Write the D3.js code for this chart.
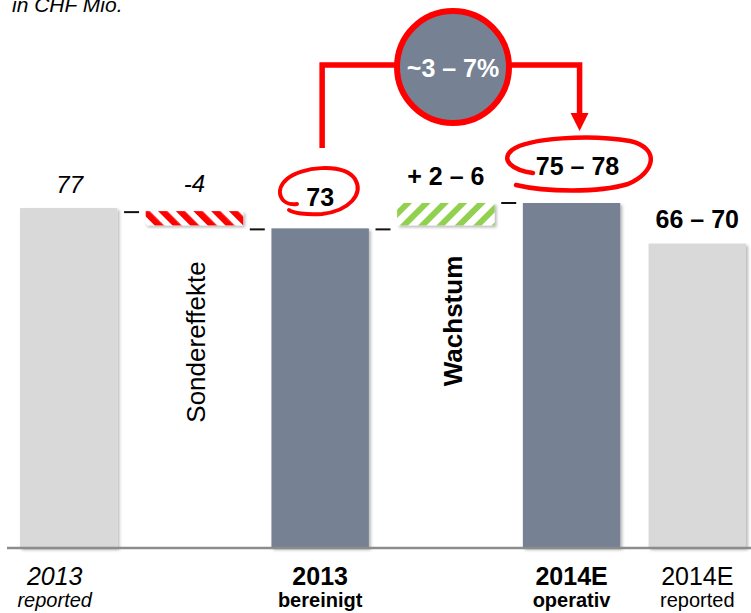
<!DOCTYPE html>
<html><head><meta charset="utf-8">
<script src="https://cdn.jsdelivr.net/npm/d3@7"></script>
<style>html,body{margin:0;padding:0;background:#fff;}svg{display:block;font-family:"Liberation Sans",Arial,sans-serif;}</style>
</head><body>
<script>
// ---- data ----
const categories = ["2013 reported","Sondereffekte","2013 bereinigt","Wachstum","2014E operativ","2014E reported"];
const barTop     = [77, 76.4, 73, 78, 78, 70];
const barLow     = [null, 73.6, null, 73.6, null, null]; // floating bars (null = from axis)
const valueLabels = ["77","-4","73","+ 2 – 6","75 – 78","66 – 70"];
const connectorLevels = [76.2, 72.8, 72.8, 78];
const catLine1 = ["2013","","2013","","2014E","2014E"];
const catLine2 = ["reported","","bereinigt","","operativ","reported"];
const rotatedLabels = ["","Sondereffekte","","Wachstum","",""];
const growthLabel = "~3 – 7%";
const unitLabel = "in CHF Mio.";

// ---- styles ----
const fills = ["#d9d9d9","url(#hatchRed)","#768193","url(#hatchGreen)","#768193","#d9d9d9"];
const labelStyle = ["italic","italic","bold","bold","bold","bold"];
const labelLift = [15, 19, 22, 18, 28, 16];
const catStyle = ["italic","","bold","","bold","normal"];
const catDx = [-14,0,0,0,0,0];

const W = 751, H = 613;
const svg = d3.select("body").append("svg").attr("width", W).attr("height", H);
const defs = svg.append("defs");
const f = defs.append("filter").attr("id","sh").attr("x","-10%").attr("y","-10%").attr("width","130%").attr("height","130%");
f.append("feDropShadow").attr("dx",2).attr("dy",2).attr("stdDeviation",1.8).attr("flood-color","#000").attr("flood-opacity",0.28);

const pr = defs.append("pattern").attr("id","hatchRed").attr("patternUnits","userSpaceOnUse")
  .attr("width",12.5).attr("height",12.5).attr("patternTransform","rotate(-45)");
pr.append("rect").attr("width",12.5).attr("height",12.5).attr("fill","#fff");
pr.append("rect").attr("width",6.5).attr("height",12.5).attr("fill","#ff0000");
const pg = defs.append("pattern").attr("id","hatchGreen").attr("patternUnits","userSpaceOnUse")
  .attr("width",13).attr("height",13).attr("patternTransform","rotate(45)");
pg.append("rect").attr("width",13).attr("height",13).attr("fill","#fff");
pg.append("rect").attr("width",6).attr("height",13).attr("fill","#92d050");

const x = d3.scaleBand().domain(categories).range([20, 746]).paddingInner(0.225).paddingOuter(0);
const y = d3.scaleLinear().domain([10, 78]).range([548, 203]);
const base = y.domain()[0];

// bars
svg.append("g").selectAll("rect").data(categories).join("rect")
  .attr("x", d => x(d))
  .attr("width", x.bandwidth())
  .attr("y", (d,i) => y(barTop[i]))
  .attr("height", (d,i) => y(barLow[i] == null ? base : barLow[i]) - y(barTop[i]))
  .attr("fill", (d,i) => fills[i])
  .attr("filter","url(#sh)");

// axis baseline
const axis = d3.axisBottom(x).tickSize(0).tickFormat("");
svg.append("g").attr("transform", `translate(0,${y(base)})`).call(axis)
  .call(g => g.select(".domain").attr("d", `M7,0H751`).attr("stroke","#8c8c8c").attr("stroke-width",2.5));

// connectors
svg.append("g").selectAll("line").data(connectorLevels).join("line")
  .attr("x1", (d,i) => (x(categories[i]) + x.bandwidth() + x(categories[i+1]))/2 - 7.5)
  .attr("x2", (d,i) => (x(categories[i]) + x.bandwidth() + x(categories[i+1]))/2 + 7.5)
  .attr("y1", d => y(d)).attr("y2", d => y(d))
  .attr("stroke","#111").attr("stroke-width",2);

// value labels
svg.append("g").selectAll("text").data(valueLabels).join("text")
  .attr("x", (d,i) => x(categories[i]) + x.bandwidth()/2 + (i===0?1:0) + (i===4?6:0))
  .attr("y", (d,i) => y(barTop[i]) - labelLift[i])
  .attr("text-anchor","middle")
  .attr("font-size", (d,i) => labelStyle[i]==="italic" ? 24 : 25)
  .attr("font-style", (d,i) => labelStyle[i]==="italic" ? "italic" : "normal")
  .attr("font-weight", (d,i) => labelStyle[i]==="bold" ? "bold" : "normal")
  .attr("fill","#000")
  .text(d => d);

// rotated labels
rotatedLabels.forEach((t,i) => {
  if (!t) return;
  const cx = x(categories[i]) + x.bandwidth()/2 + (i===1?11:16);
  const cy = i===1 ? 342 : 321;
  svg.append("text").attr("transform", `translate(${cx},${cy}) rotate(-90)`)
    .attr("text-anchor","middle").attr("font-size",26)
    .attr("font-weight", i===3 ? "bold" : "normal").attr("fill","#000").text(t);
});

// category labels
const cg = svg.append("g");
categories.forEach((c,i) => {
  const cx = x(c) + x.bandwidth()/2 + catDx[i];
  const it = catStyle[i]==="italic", bd = catStyle[i]==="bold";
  if (catLine1[i]) cg.append("text").attr("x",cx).attr("y",585).attr("text-anchor","middle")
    .attr("font-size",25).attr("font-style", it?"italic":"normal").attr("font-weight", bd?"bold":"normal").text(catLine1[i]);
  if (catLine2[i]) cg.append("text").attr("x",cx).attr("y",607).attr("text-anchor","middle")
    .attr("font-size",20).attr("font-style", it?"italic":"normal").attr("font-weight", bd?"bold":"normal").text(catLine2[i]);
});

// unit label
svg.append("text").attr("x",12).attr("y",12).attr("font-size",21).attr("font-style","italic").attr("fill","#000").text(unitLabel);

// annotations: bracket arrow from 2013 bereinigt to 2014E operativ
const red = "#ff0000";
const xL = x(categories[2]) + x.bandwidth()/2 + 2, xR = x(categories[4]) + x.bandwidth()/2 + 8;
svg.append("path").attr("d", `M${xL},148V65H${xR}V115`).attr("fill","none").attr("stroke",red).attr("stroke-width",5.5).attr("stroke-linejoin","miter");
svg.append("path").attr("d", `M${xR-9},113L${xR+9},113L${xR},131Z`).attr("fill",red);
svg.append("circle").attr("cx",453).attr("cy",67).attr("r",56).attr("fill","#768193").attr("stroke",red).attr("stroke-width",6);
svg.append("text").attr("x",453).attr("y",77).attr("text-anchor","middle").attr("font-size",25).attr("font-weight","bold").attr("fill","#fff").text(growthLabel);

// hand-drawn loops
svg.append("path").attr("d","M297,204 C280,206 274,190 287,179 C300,167 343,162 355,179 C364,194 349,211 322,214 C306,215 293,213 289,210")
  .attr("fill","none").attr("stroke",red).attr("stroke-width",4).attr("stroke-linecap","round");
svg.append("path").attr("d","M533,173 C512,170 500,160 512,150 C528,138 590,134 630,141 C660,148 656,172 628,184 C598,193 545,192 516,185")
  .attr("fill","none").attr("stroke",red).attr("stroke-width",4.5).attr("stroke-linecap","round");
</script>
</body></html>
